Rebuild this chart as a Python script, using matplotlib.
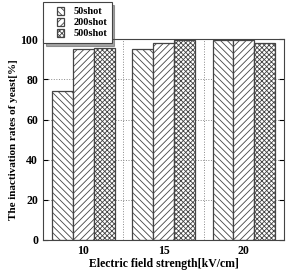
import numpy as np
import matplotlib
matplotlib.use("Agg")
import matplotlib.pyplot as plt
import matplotlib.patches as mpatches
from matplotlib.container import BarContainer
from matplotlib.legend_handler import HandlerPatch, update_from_first_child

plt.rcParams['font.family'] = ['Liberation Serif', 'DejaVu Serif']
plt.rcParams['font.weight'] = 'bold'
plt.rcParams['hatch.linewidth'] = 0.6
plt.rcParams['hatch.color'] = '#8a8a8a'

fields = [10, 15, 20]
series = ['50shot', '200shot', '500shot']
rate_50 = [74.3, 95.4, 99.8]
rate_200 = [95.4, 98.1, 99.4]
rate_500 = [95.9, 99.4, 98.4]
values = [rate_50, rate_200, rate_500]
hatches = ['\\\\\\\\\\', '/////', 'xxxxxxx']

fig = plt.figure(figsize=(2.91, 2.71), dpi=100)
ax = fig.add_axes([0.148, 0.115, 0.828, 0.74])

w = 1.3
x = np.array(fields, dtype=float)
for i, (lab, vals, h) in enumerate(zip(series, values, hatches)):
    ax.bar(x + (i - 1) * w, vals, w, facecolor='white', edgecolor='#444444',
           hatch=h, linewidth=0.9, label=lab, zorder=2)

ax.set_xlim(7.5, 22.5)
ax.set_ylim(0, 100)
ax.set_xticks(fields)
ax.set_yticks([0, 20, 40, 60, 80, 100])
ax.set_xticks([12.5, 17.5], minor=True)
ax.grid(True, which='major', axis='y', linestyle=':', color='#888888', linewidth=0.7, zorder=0)
ax.grid(True, which='minor', axis='x', linestyle=':', color='#888888', linewidth=0.7, zorder=0)
ax.tick_params(axis='both', which='both', direction='in', labelsize=8.5, right=True)
ax.tick_params(axis='x', which='minor', length=0)
for s in ax.spines.values():
    s.set_color('#444444')

ax.set_xlabel('Electric field strength[kV/cm]', fontsize=8.5, fontweight='bold', labelpad=1)
ax.set_ylabel('The inactivation rates of yeast[%]', fontsize=8.0, fontweight='bold', labelpad=2)


# small square handle pushed to the right of the handle area
def square(legend, orig_handle, xdescent, ydescent, width, height, fontsize):
    return mpatches.Rectangle((width - height - xdescent, -ydescent), height, height)


leg = ax.legend(loc='upper left', bbox_to_anchor=(0.0, 1.185), fontsize=7.5, frameon=True,
                fancybox=False, shadow=True, handlelength=1.6, handleheight=0.75,
                handletextpad=0.85, borderpad=0.45, labelspacing=0.15, borderaxespad=0,
                handler_map={BarContainer: HandlerPatch(patch_func=square,
                                                        update_func=update_from_first_child)})
leg.get_frame().set_edgecolor('#444444')
leg.get_frame().set_linewidth(0.8)
leg.set_zorder(5)

fig.savefig('out.png', dpi=100)
